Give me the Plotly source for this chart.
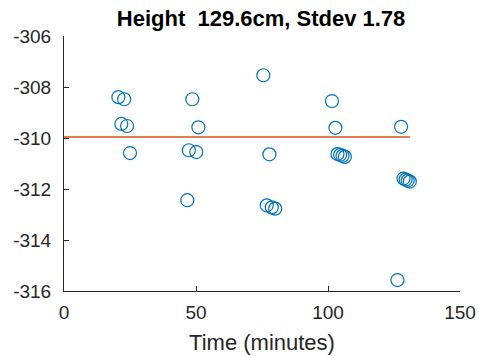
import plotly.graph_objects as go

time_min = [20.6, 22.8, 48.6, 75.5, 101.5,
            21.7, 23.9, 50.9, 102.8, 127.7,
            25.0, 47.3, 50.1, 77.8,
            103.6, 104.6, 105.5, 106.4,
            128.6, 129.4, 130.2, 131.0,
            46.7, 76.8, 78.7, 80.0,
            126.3]
height_val = [-308.40, -308.48, -308.48, -307.54, -308.55,
              -309.45, -309.53, -309.58, -309.60, -309.56,
              -310.59, -310.48, -310.55, -310.64,
              -310.63, -310.66, -310.70, -310.74,
              -311.59, -311.63, -311.67, -311.71,
              -312.44, -312.64, -312.72, -312.77,
              -315.57]
mean_level = -309.96
title_text = "Height  129.6cm, Stdev 1.78"
x_ticks = [0, 50, 100, 150]
x_tick_labels = ["0", "50", "100", "150"]
y_ticks = [-316, -314, -312, -310, -308, -306]
y_tick_labels = ["-316", "-314", "-312", "-310", "-308", "-306"]

FONT = "Liberation Sans, Arial, Helvetica"

fig = go.Figure()
fig.add_trace(go.Scatter(
    x=time_min, y=height_val, mode="markers",
    marker=dict(symbol="circle-open", size=13, color="#0072BD", line=dict(width=1.2)),
    showlegend=False, cliponaxis=False))
fig.add_trace(go.Scatter(
    x=[0, max(time_min)], y=[mean_level, mean_level], mode="lines",
    line=dict(color="#D95319", width=1.3), showlegend=False))

axis_common = dict(showgrid=False, zeroline=False, showline=True, linecolor="#262626",
                   linewidth=1, ticks="inside", ticklen=5, tickcolor="#262626",
                   automargin=False, ticklabeloverflow="allow",
                   tickfont=dict(family=FONT, size=19, color="#262626"))
fig.update_layout(
    width=479, height=356,
    margin=dict(l=64, r=19, t=36, b=65),
    paper_bgcolor="white", plot_bgcolor="white",
    title=dict(text="<b>" + title_text + "</b>", x=0.545, xanchor="center", y=0.95, yanchor="middle",
               font=dict(family=FONT, size=22, color="#000000")),
    xaxis=dict(range=[0, 150], tickvals=x_ticks, ticktext=x_tick_labels, ticklabelstandoff=4,
               title=dict(text="Time (minutes)", standoff=12,
                          font=dict(family=FONT, size=22, color="#262626")),
               **axis_common),
    yaxis=dict(range=[-316, -306], tickvals=y_ticks, ticktext=y_tick_labels,
               ticklabelstandoff=8, **axis_common),
)
fig.write_html("out.html", config={"displayModeBar": False},
               post_script="document.body.style.margin='0';document.body.style.overflow='hidden';")
